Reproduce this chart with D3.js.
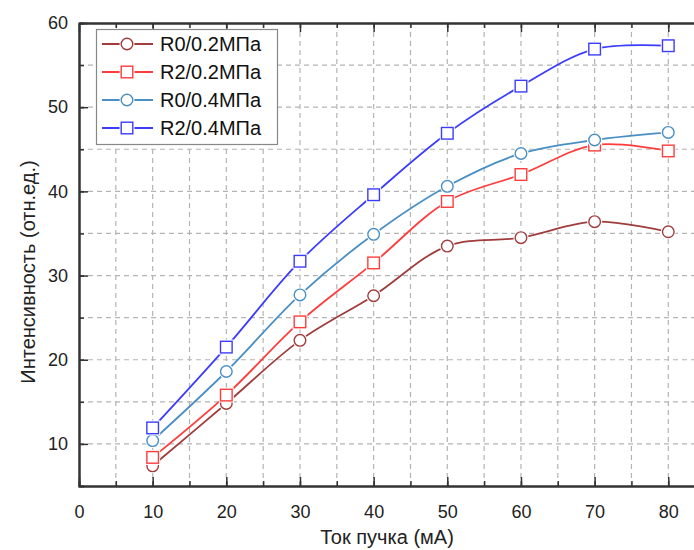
<!DOCTYPE html>
<html>
<head>
<meta charset="utf-8">
<script src="https://cdn.jsdelivr.net/npm/d3@7"></script>
<style>
  body { margin: 0; background: #fff; }
  svg { display: block; font-family: "Liberation Sans", Arial, sans-serif; }
</style>
</head>
<body>
<svg id="chart" width="694" height="550"></svg>
<script>
// data
const currents = [10, 20, 30, 40, 50, 60, 70, 80];
const r0_02 = [7.4, 14.8, 22.3, 27.6, 33.5, 34.5, 36.4, 35.2];
const r2_02 = [8.4, 15.8, 24.5, 31.5, 38.8, 42.0, 45.5, 44.8];
const r0_04 = [10.4, 18.6, 27.7, 34.9, 40.6, 44.5, 46.1, 47.0];
const r2_04 = [11.9, 21.5, 31.7, 39.6, 46.9, 52.5, 56.9, 57.3];
const seriesNames = ["R0/0.2МПа", "R2/0.2МПа", "R0/0.4МПа", "R2/0.4МПа"];
const xTicks = [0, 10, 20, 30, 40, 50, 60, 70, 80];
const yTicks = [10, 20, 30, 40, 50, 60];

const series = [
  { name: seriesNames[0], values: r0_02, color: "#a03c3c", shape: "circle" },
  { name: seriesNames[1], values: r2_02, color: "#ff3c3c", shape: "square" },
  { name: seriesNames[2], values: r0_04, color: "#4a8fc4", shape: "circle" },
  { name: seriesNames[3], values: r2_04, color: "#3c3cff", shape: "square" }
];

const svg = d3.select("#chart");
const plotLeft = 79, plotTop = 23, plotBottom = 486;

const x = d3.scaleLinear().domain([0, 85]).range([plotLeft, plotLeft + 85 * 7.366]);
const y = d3.scaleLinear().domain([5, 60]).range([plotBottom, plotTop]);

const minorX = d3.range(5, 86, 5);
const minorY = d3.range(10, 60, 5);

// dashed grid
svg.append("g").selectAll("line")
  .data(minorX)
  .join("line")
  .attr("x1", d => x(d)).attr("x2", d => x(d))
  .attr("y1", plotTop).attr("y2", plotBottom)
  .attr("stroke", "#b4b4b4").attr("stroke-width", 1.2)
  .attr("stroke-dasharray", "5,4");

svg.append("g").selectAll("line")
  .data(minorY)
  .join("line")
  .attr("x1", plotLeft).attr("x2", 694)
  .attr("y1", d => y(d)).attr("y2", d => y(d))
  .attr("stroke", "#b4b4b4").attr("stroke-width", 1.2)
  .attr("stroke-dasharray", "5,4");

// axes with inward ticks
const axisColor = "#333";
function styleAxis(g) {
  g.select(".domain").attr("stroke", axisColor).attr("stroke-width", 2);
  g.selectAll(".tick line").attr("stroke", axisColor).attr("stroke-width", 1.5);
  g.selectAll(".tick text").attr("fill", "#222").style("font-size", "18px")
    .style("font-family", "'Liberation Sans', Arial, sans-serif");
}

const xMinorAxis = d3.axisBottom(x).tickValues(minorX).tickSize(-5).tickFormat("");
const yMinorAxis = d3.axisLeft(y).tickValues(minorY).tickSize(-5).tickFormat("");

svg.append("g").attr("transform", `translate(0,${plotBottom})`).call(xMinorAxis).call(styleAxis);
svg.append("g").attr("transform", `translate(0,${plotBottom})`)
  .call(d3.axisBottom(x).tickValues(xTicks).tickSize(-9).tickPadding(19).tickSizeOuter(0))
  .call(styleAxis);

svg.append("g").attr("transform", `translate(${plotLeft},0)`).call(yMinorAxis).call(styleAxis);
svg.append("g").attr("transform", `translate(${plotLeft},0)`)
  .call(d3.axisLeft(y).tickValues(yTicks).tickSize(-9).tickPadding(11).tickSizeOuter(0))
  .call(styleAxis);

// top frame
svg.append("g").attr("transform", `translate(0,${plotTop})`)
  .call(d3.axisTop(x).tickValues(minorX).tickSize(-5).tickFormat("").tickSizeOuter(0))
  .call(styleAxis);
svg.append("g").attr("transform", `translate(0,${plotTop})`)
  .call(d3.axisTop(x).tickValues(xTicks).tickSize(-9).tickFormat("").tickSizeOuter(0))
  .call(styleAxis);

// axis titles
svg.append("text")
  .attr("x", 387).attr("y", 544)
  .attr("text-anchor", "middle")
  .style("font-size", "20px").attr("fill", "#222")
  .text("Ток пучка (мА)");

svg.append("text")
  .attr("transform", "translate(35,272) rotate(-90)")
  .attr("text-anchor", "middle")
  .style("font-size", "20px").attr("fill", "#222")
  .text("Интенсивность (отн.ед.)");

// lines
const line = d3.line()
  .x((d, i) => x(currents[i]))
  .y(d => y(d))
  .curve(d3.curveCatmullRom.alpha(0.5));

function drawMarker(g, shape, color, cx, cy) {
  const s = shape === "circle"
    ? g.append("circle").attr("cx", cx).attr("cy", cy).attr("r", 5.8)
    : g.append("rect").attr("x", cx - 5.8).attr("y", cy - 5.8).attr("width", 11.6).attr("height", 11.6);
  s.attr("fill", "#fff").attr("stroke", color).attr("stroke-width", 1.4);
  return s;
}

series.forEach(s => {
  svg.append("path")
    .datum(s.values)
    .attr("d", line)
    .attr("fill", "none")
    .attr("stroke", s.color)
    .attr("stroke-width", 1.8);
});

series.forEach(s => {
  const g = svg.append("g");
  s.values.forEach((v, i) => {
    // white halo to leave a gap between line and symbol
    const cx = x(currents[i]), cy = y(v);
    if (s.shape === "circle") {
      g.append("circle").attr("cx", cx).attr("cy", cy).attr("r", 7.5).attr("fill", "#fff");
    } else {
      g.append("rect").attr("x", cx - 7.5).attr("y", cy - 7.5).attr("width", 15).attr("height", 15).attr("fill", "#fff");
    }
    drawMarker(g, s.shape, s.color, cx, cy);
  });
});

// legend
const legend = svg.append("g");
legend.append("rect")
  .attr("x", 96.5).attr("y", 29.5).attr("width", 181).attr("height", 115)
  .attr("fill", "#fff").attr("stroke", "#888").attr("stroke-width", 1.2);

series.forEach((s, i) => {
  const ly = 44 + i * 28;
  legend.append("line")
    .attr("x1", 102).attr("x2", 153).attr("y1", ly).attr("y2", ly)
    .attr("stroke", s.color).attr("stroke-width", 1.8);
  if (s.shape === "circle") {
    legend.append("circle").attr("cx", 127).attr("cy", ly).attr("r", 7.5).attr("fill", "#fff");
  } else {
    legend.append("rect").attr("x", 119.5).attr("y", ly - 7.5).attr("width", 15).attr("height", 15).attr("fill", "#fff");
  }
  drawMarker(legend, s.shape, s.color, 127, ly);
  legend.append("text")
    .attr("x", 160).attr("y", ly + 7)
    .style("font-size", "20px").attr("fill", "#111")
    .text(s.name);
});
</script>
</body>
</html>
